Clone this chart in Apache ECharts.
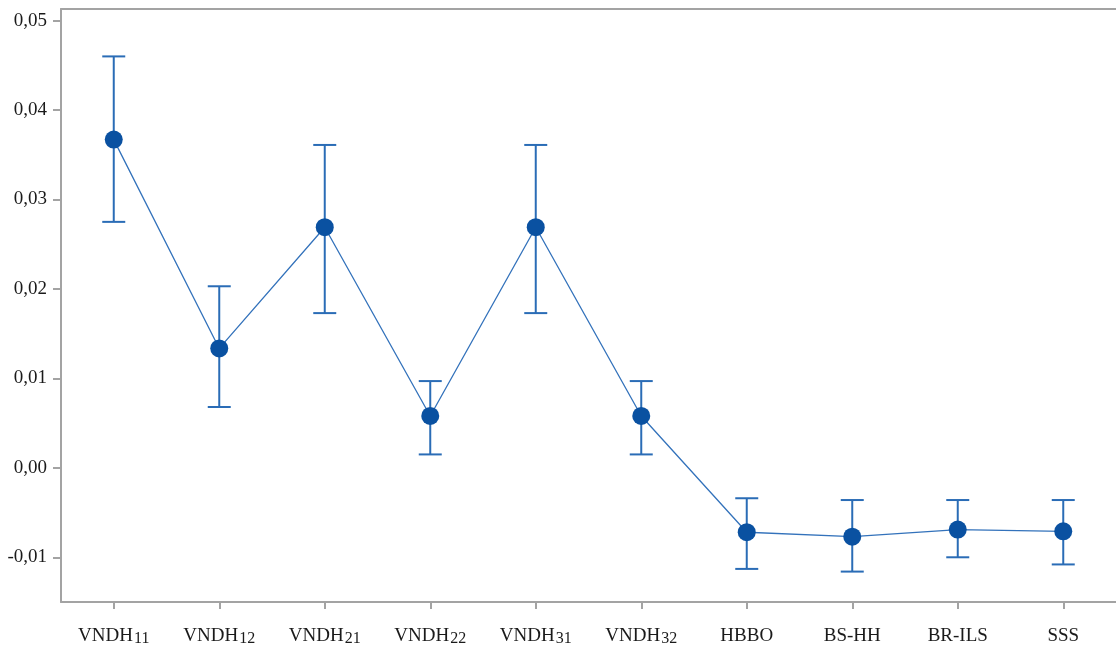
<!DOCTYPE html>
<html>
<head>
<meta charset="utf-8">
<script src="https://cdn.jsdelivr.net/npm/echarts@6/dist/echarts.min.js"></script>
<style>
  html, body { margin: 0; padding: 0; background: #fff; }
  #chart { width: 1116px; height: 653px; }
</style>
</head>
<body>
<div id="chart"></div>
<script>
// Method names: base text and subscript digits
const methodBase = ['VNDH', 'VNDH', 'VNDH', 'VNDH', 'VNDH', 'VNDH', 'HBBO', 'BS-HH', 'BR-ILS', 'SSS'];
const methodSub  = ['11', '12', '21', '22', '31', '32', '', '', '', ''];

// Mean values and interval bounds
const means = [0.0367, 0.01335, 0.0269, 0.0058, 0.0269, 0.0058, -0.0072, -0.0077, -0.0069, -0.0071];
const upper = [0.0460, 0.0203, 0.0361, 0.0097, 0.0361, 0.0097, -0.0034, -0.0036, -0.0036, -0.0036];
const lower = [0.0275, 0.0068, 0.0173, 0.0015, 0.0173, 0.0015, -0.0113, -0.0116, -0.0100, -0.0108];

// Y-axis tick values
const yTicks = [-0.01, 0.00, 0.01, 0.02, 0.03, 0.04, 0.05];

const categories = methodBase.map((b, i) => b + methodSub[i]);

const axisGray = '#a3a3a3';
const serif = '"Liberation Serif", "Times New Roman", serif';
const barColor = '#2a6cb6';

const chart = echarts.init(document.getElementById('chart'));

chart.setOption({
  animation: false,
  backgroundColor: '#ffffff',
  grid: { left: 61, top: 9, width: 1059, height: 593, containLabel: false },
  xAxis: [
    {
      type: 'category',
      data: categories,
      position: 'bottom',
      boundaryGap: true,
      axisLine: { show: true, onZero: false, lineStyle: { color: axisGray, width: 2 } },
      axisTick: { show: true, alignWithLabel: true, length: 7, lineStyle: { color: axisGray, width: 2 } },
      splitLine: { show: false },
      axisLabel: {
        margin: 25,
        interval: 0,
        formatter: function (v, i) {
          return methodSub[i] ? '{m|' + methodBase[i] + '}{s|' + methodSub[i] + '}' : '{m|' + methodBase[i] + '}';
        },
        rich: {
          m: { fontFamily: serif, fontSize: 19, color: '#1a1a1a', lineHeight: 24, verticalAlign: 'top' },
          s: { fontFamily: serif, fontSize: 16, color: '#1a1a1a', lineHeight: 24, verticalAlign: 'top', padding: [4, 0, 0, 1] }
        }
      }
    },
    {
      type: 'category',
      data: categories,
      position: 'top',
      axisLine: { show: true, onZero: false, lineStyle: { color: axisGray, width: 2 } },
      axisTick: { show: false },
      axisLabel: { show: false },
      splitLine: { show: false }
    }
  ],
  yAxis: {
    type: 'value',
    min: -0.015,
    max: 0.0513,
    axisLine: { show: true, onZero: false, lineStyle: { color: axisGray, width: 2 } },
    axisTick: { show: true, length: 8, lineStyle: { color: axisGray, width: 2 }, customValues: yTicks },
    splitLine: { show: false },
    axisLabel: {
      margin: 14,
      customValues: yTicks,
      fontFamily: serif,
      fontSize: 19,
      color: '#1a1a1a',
      formatter: v => v.toFixed(2).replace('.', ',')
    }
  },
  series: [
    {
      type: 'custom',
      name: 'interval',
      z: 2,
      data: means.map((m, i) => [i, lower[i], upper[i]]),
      encode: { x: 0, y: [1, 2] },
      renderItem: function (params, api) {
        const i = api.value(0);
        const lo = api.coord([i, api.value(1)]);
        const hi = api.coord([i, api.value(2)]);
        const half = 11.5;
        const style = { stroke: barColor, lineWidth: 2 };
        return {
          type: 'group',
          children: [
            { type: 'line', shape: { x1: lo[0], y1: lo[1], x2: hi[0], y2: hi[1] }, style: style },
            { type: 'line', shape: { x1: hi[0] - half, y1: hi[1], x2: hi[0] + half, y2: hi[1] }, style: style },
            { type: 'line', shape: { x1: lo[0] - half, y1: lo[1], x2: lo[0] + half, y2: lo[1] }, style: style }
          ]
        };
      }
    },
    {
      type: 'line',
      name: 'mean',
      z: 3,
      data: means,
      symbol: 'circle',
      symbolSize: 18,
      showAllSymbol: true,
      lineStyle: { color: '#3372bb', width: 1.3 },
      itemStyle: { color: '#0a51a1', borderWidth: 0 }
    }
  ]
});
</script>
</body>
</html>
